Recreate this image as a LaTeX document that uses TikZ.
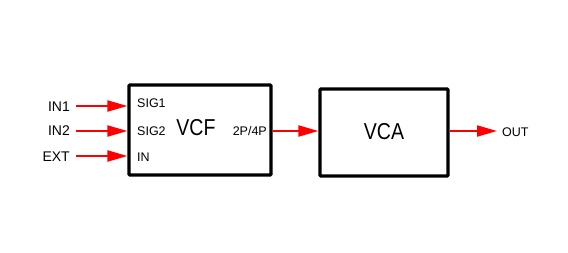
\documentclass[tikz,border=0pt]{standalone}
\usepackage{fontspec}
\setmainfont{Liberation Sans}
\newfontfamily\bigfont[FakeStretch=0.85]{Liberation Sans}
\usetikzlibrary{arrows.meta}
\begin{document}
\begin{tikzpicture}[x=1pt,y=-1pt,
  blockbox/.style={draw=black,line width=3.2pt,rounded corners=1pt,inner sep=0pt},
  sig/.style={draw=red,line width=2pt,-{Triangle[length=20pt,width=11pt]}},
  lbl/.style={font=\fontsize{12.5}{14}\selectfont,inner sep=0pt},
  inlbl/.style={font=\fontsize{14}{16}\selectfont,inner sep=0pt},
  big/.style={font=\bigfont\fontsize{23}{26}\selectfont,inner sep=0pt}]
\useasboundingbox (0,0) rectangle (568,252);
\node[blockbox,minimum width=142pt,minimum height=90pt] (vcf) at (200,130) {};
\node[blockbox,minimum width=128pt,minimum height=87pt] (vca) at (384,132.5) {};
\node[big] (vcft) at (196,128) {VCF};
\node[big] (vcat) at (384,132) {VCA};
\node[lbl,anchor=west] (s1) at (137,103) {SIG1};
\node[lbl,anchor=west] (s2) at (137,131) {SIG2};
\node[lbl,anchor=west] (s3) at (137,157) {IN};
\node[lbl,anchor=east] (p2) at (267,131) {2P/4P};
\node[inlbl,anchor=east] (i1) at (70,107) {IN1};
\node[inlbl,anchor=east] (i2) at (70,131) {IN2};
\node[inlbl,anchor=east] (i3) at (70,157) {EXT};
\node[lbl,anchor=west] (out) at (502,132) {OUT};
\coordinate (a1) at (76,106);
\coordinate (a2) at (76,131);
\coordinate (a3) at (76,156);
\coordinate (oe) at (497,131);
\draw[sig] (a1) -- (a1 -| vcf.west);
\draw[sig] (a2) -- (a2 -| vcf.west);
\draw[sig] (a3) -- (a3 -| vcf.west);
\draw[sig] (vcf.east |- oe) -- (vca.west |- oe);
\draw[sig] (vca.east |- oe) -- (oe);
\end{tikzpicture}
\end{document}
